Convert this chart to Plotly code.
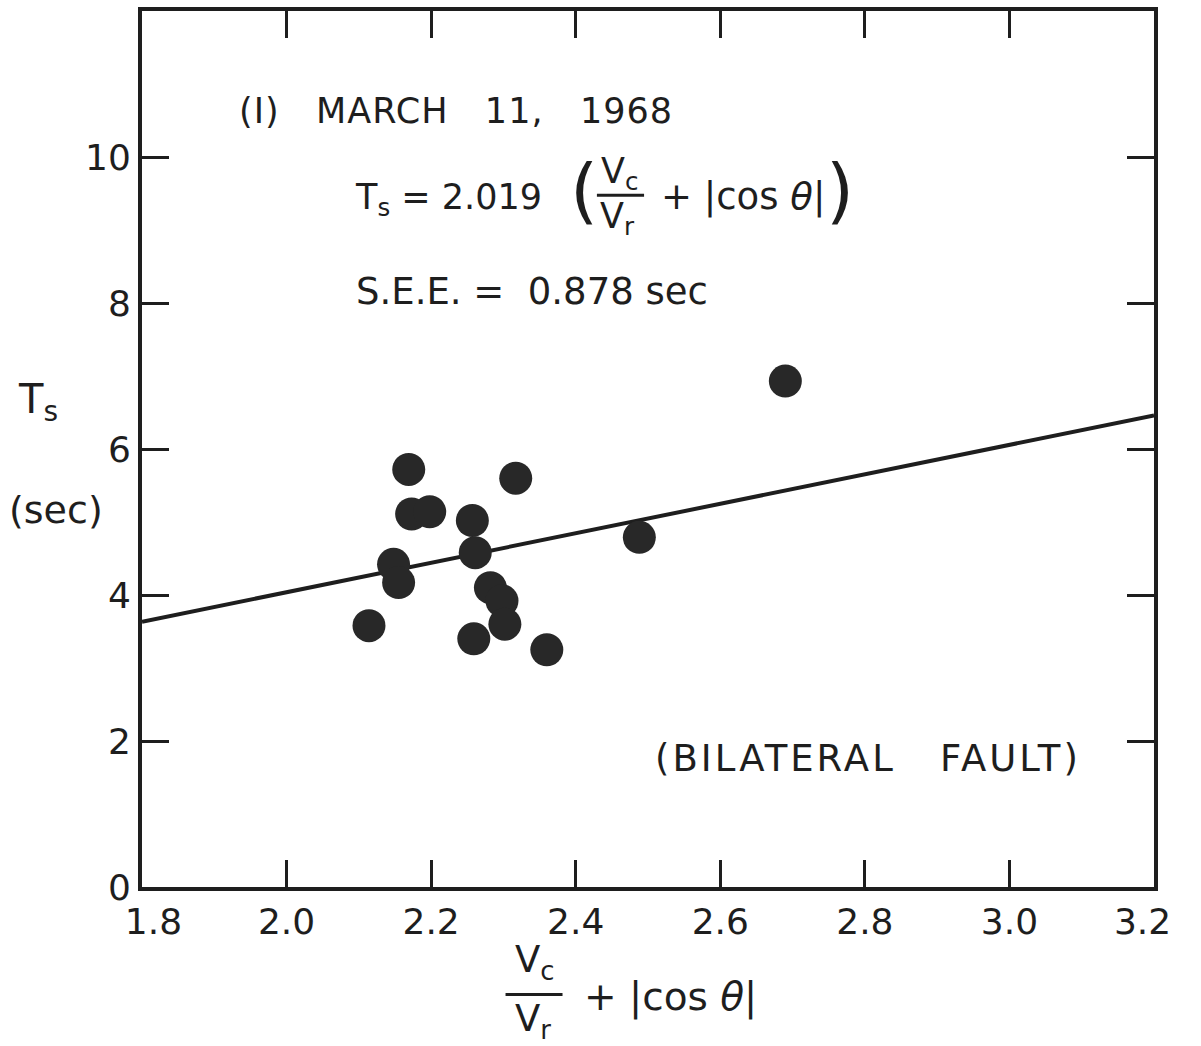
import plotly.graph_objects as go

# ---- data ----
x_vals = [2.114, 2.169, 2.173, 2.198, 2.257, 2.317, 2.148, 2.155,
          2.261, 2.282, 2.298, 2.302, 2.259, 2.360, 2.488, 2.690]
t_vals = [3.58, 5.72, 5.11, 5.14, 5.02, 5.60, 4.42, 4.17,
          4.58, 4.10, 3.92, 3.60, 3.40, 3.25, 4.79, 6.93]
fit_coef = 2.019
fit_x = [1.8, 3.2]
fit_y = [fit_coef * v for v in fit_x]

x_ticks = [1.8, 2.0, 2.2, 2.4, 2.6, 2.8, 3.0, 3.2]
x_tick_labels = ["\u00a0\u00a01.8", "2.0", "2.2", "2.4", "2.6", "2.8", "3.0",
                 "3.2\u00a0\u00a0"]
y_ticks = [0, 2, 4, 6, 8, 10]
y_tick_labels = ["0", "2", "4", "6", "8", "10"]

FONT = "DejaVu Sans"
INK = "#1e1e1e"
W, H = 1201, 1046
L, R, T, B = 142, 29, 7, 159
PW, PH = W - L - R, H - T - B


def P(px, py):
    return (px - L) / PW, (H - B - py) / PH


fig = go.Figure()
fig.add_trace(go.Scatter(x=fit_x, y=fit_y, mode="lines",
                         line=dict(color=INK, width=4), showlegend=False))
fig.add_trace(go.Scatter(x=x_vals, y=t_vals, mode="markers",
                         marker=dict(size=33, color="#282828",
                                     line=dict(width=0)),
                         showlegend=False))

ann = []


def text(s, px, py, size=35, xanchor="center"):
    x, y = P(px, py)
    ann.append(dict(text=s, x=x, y=y, xref="paper", yref="paper",
                    xanchor=xanchor, yanchor="middle", showarrow=False,
                    font=dict(family=FONT, size=size, color=INK)))


def spaced(s, px=3):
    return '<span style="letter-spacing:%dpx">%s</span>' % (px, s)


sp = "\u00a0"
text(spaced("(I)" + sp * 3 + "MARCH" + sp * 3 + "11," + sp * 3 + "1968", 1),
     462, 107, size=35)
text("T<sub>s</sub> = 2.019", 357, 196, xanchor="left")
text("(", 592, 187, size=72)
text("V<sub>c</sub>", 628, 170)
text("V<sub>r</sub>", 626, 215)
text("+ |cos <i>θ</i>|", 668, 193, size=37, xanchor="left")
text(")", 852, 187, size=72)
text("S.E.E." + sp + "=" + sp * 2 + "0.878" + sp + "sec", 358, 289, size=37,
     xanchor="left")
text(spaced("(BILATERAL" + sp * 3 + "FAULT)", 3), 881, 758, size=37)
text("T<sub>s</sub>", 36, 400, size=40)
text("(sec)", 54, 508, size=38)
text("V<sub>c</sub>", 542, 962, size=37)
text("V<sub>r</sub>", 540, 1022, size=37)
text("+ |cos <i>θ</i>|", 590, 997, size=39, xanchor="left")

shapes = []
for (x0, x1, yy) in [(605, 653, 192), (512, 570, 995)]:
    a0, b0 = P(x0, yy)
    a1, b1 = P(x1, yy)
    shapes.append(dict(type="line", xref="paper", yref="paper",
                       x0=a0, y0=b0, x1=a1, y1=b1,
                       line=dict(color=INK, width=3)))

axis_common = dict(showline=True, linewidth=4, linecolor=INK, mirror="allticks",
                   ticks="inside", ticklen=27, tickwidth=3, tickcolor=INK,
                   showgrid=False, zeroline=False, ticklabeloverflow="allow",
                   tickfont=dict(family=FONT, size=36, color=INK))

fig.update_layout(
    width=W, height=H, autosize=False,
    margin=dict(l=L, r=R, t=T, b=B),
    paper_bgcolor="white", plot_bgcolor="white",
    xaxis=dict(range=[1.8, 3.2], tickvals=x_ticks, ticktext=x_tick_labels,
               **axis_common),
    yaxis=dict(range=[0, 12], tickvals=y_ticks, ticktext=y_tick_labels,
               **axis_common),
    annotations=ann, shapes=shapes, showlegend=False,
)

fig.write_html("out.html", config={"displayModeBar": False},
               post_script="document.body.style.margin='0';"
                           "document.body.style.overflow='hidden';")
